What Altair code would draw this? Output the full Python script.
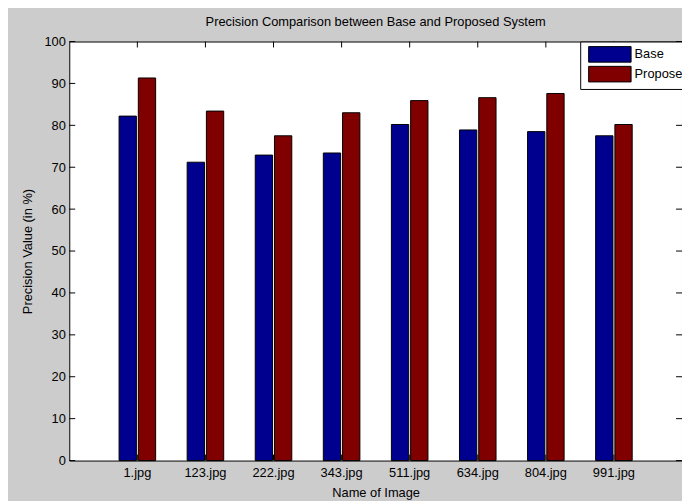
import altair as alt
import pandas as pd

images = ["1.jpg", "123.jpg", "222.jpg", "343.jpg", "511.jpg", "634.jpg", "804.jpg", "991.jpg"]
base = [82.2, 71.2, 72.9, 73.4, 80.2, 78.9, 78.5, 77.5]
proposed = [91.3, 83.4, 77.5, 83.0, 85.9, 86.6, 87.6, 80.2]
series = ["Base", "Proposed"]
colors = ["#00008F", "#800000"]
y_ticks = list(range(0, 101, 10))

rows = []
for img, b, p in zip(images, base, proposed):
    rows.append({"img": img, "series": "Base", "value": b})
    rows.append({"img": img, "series": "Proposed", "value": p})
df = pd.DataFrame(rows)
df_y = pd.DataFrame({"value": y_ticks})
df_x = pd.DataFrame({"img": images})

W, H = 620, 424
FONT = "Liberation Sans"

xscale = alt.Scale(domain=images, paddingInner=0.463, paddingOuter=0.7315)
yscale = alt.Scale(domain=[0, 100], nice=False)

xaxis = alt.Axis(title="Name of Image", labelAngle=0, ticks=False, domain=False, grid=False,
                 labelPadding=6, titleX=W / 2, titleY=32, titleBaseline="middle")
yaxis = alt.Axis(title="Precision Value (in %)", values=y_ticks, ticks=False, domain=False,
                 grid=False, labelPadding=4, titleX=-42, titleY=H / 2, titleBaseline="middle")

bars = alt.Chart(df).mark_bar(stroke="black", strokeWidth=1).encode(
    x=alt.X("img:N", sort=images, scale=xscale, axis=xaxis),
    xOffset=alt.XOffset("series:N", scale=alt.Scale(domain=series, paddingInner=0.1, paddingOuter=0)),
    y=alt.Y("value:Q", scale=yscale, axis=yaxis),
    color=alt.Color("series:N", scale=alt.Scale(domain=series, range=colors),
                    legend=alt.Legend(orient="none", legendX=517, legendY=0, title=None,
                                      symbolType="M-3,-1.1L3,-1.1L3,1.1L-3,1.1Z", symbolSize=205,
                                      symbolOffset=17, symbolStrokeColor="black", symbolStrokeWidth=1,
                                      labelFontSize=13, labelFont=FONT, labelColor="black",
                                      strokeColor="black", fillColor="white", padding=5,
                                      rowPadding=0, labelOffset=17)),
)

ytick_left = alt.Chart(df_y).mark_rule(color="black", strokeWidth=1).encode(
    y=alt.Y("value:Q", scale=yscale, axis=yaxis), x=alt.value(0), x2=alt.value(6))
ytick_right = alt.Chart(df_y).mark_rule(color="black", strokeWidth=1).encode(
    y=alt.Y("value:Q", scale=yscale, axis=yaxis), x=alt.value(W - 6), x2=alt.value(W))
xtick_top = alt.Chart(df_x).mark_rule(color="black", strokeWidth=1).encode(
    x=alt.X("img:N", sort=images, scale=xscale, axis=xaxis), y=alt.value(0), y2=alt.value(6))
xtick_bottom = alt.Chart(df_x).mark_rule(color="black", strokeWidth=1).encode(
    x=alt.X("img:N", sort=images, scale=xscale, axis=xaxis), y=alt.value(H - 6), y2=alt.value(H))

chart = alt.layer(bars, ytick_left, ytick_right, xtick_top, xtick_bottom).properties(
    width=W, height=H,
    title=alt.TitleParams("Precision Comparison between Base and Proposed System", fontSize=13,
                          font=FONT, fontWeight="normal", color="black", offset=7),
    autosize=alt.AutoSizeParams(type="none"),
    padding={"left": 62, "top": 31, "right": 0, "bottom": 38},
    background="#cccccc",
).configure_view(stroke="black", strokeWidth=1, fill="white").configure_axis(
    labelFont=FONT, labelFontSize=13, labelColor="black",
    titleFont=FONT, titleFontSize=13, titleFontWeight="normal", titleColor="black",
)

chart.save("out.html", embed_options={"renderer": "svg", "actions": False})
